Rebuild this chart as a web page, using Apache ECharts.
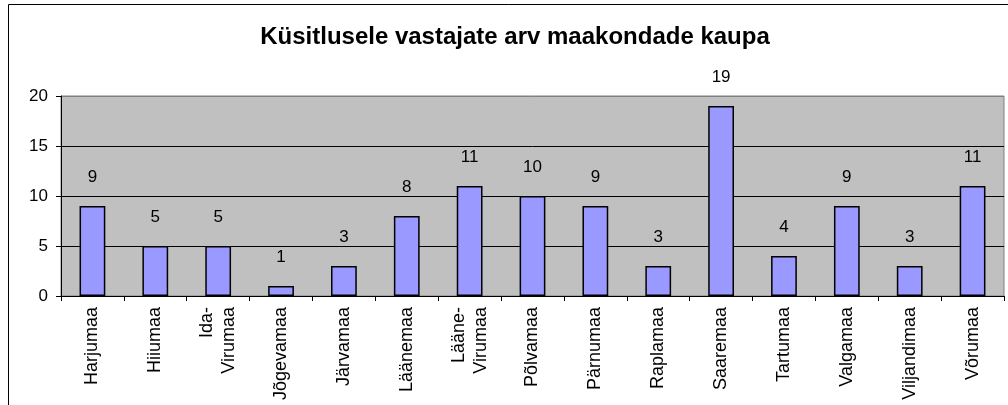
<!DOCTYPE html>
<html>
<head>
<meta charset="utf-8">
<script src="https://cdn.jsdelivr.net/npm/echarts@6/dist/echarts.min.js"></script>
<style>
  html, body { margin: 0; padding: 0; background: #ffffff; }
  #chart { width: 1008px; height: 405px; }
</style>
</head>
<body>
<div id="chart"></div>
<script>
const categories = [
    "Harjumaa", "Hiiumaa", "Ida-\nVirumaa", "Jõgevamaa", "Järvamaa",
    "Läänemaa", "Lääne-\nVirumaa", "Põlvamaa", "Pärnumaa", "Raplamaa",
    "Saaremaa", "Tartumaa", "Valgamaa", "Viljandimaa", "Võrumaa"
];
const respondents = [9, 5, 5, 1, 3, 8, 11, 10, 9, 3, 19, 4, 9, 3, 11];
const yTicks = [0, 5, 10, 15, 20];

const font = "'Liberation Sans', Arial, sans-serif";
const chart = echarts.init(document.getElementById("chart"));

const option = {
    backgroundColor: "#ffffff",
    animation: false,
    title: {
        text: "Küsitlusele vastajate arv maakondade kaupa",
        left: 510,
        textAlign: "center",
        top: 20,
        textStyle: { fontFamily: font, fontSize: 24, fontWeight: "bold", color: "#000000" },
    },
    graphic: [
        {
            type: "rect",
            shape: { x: 8.5, y: 4.5, width: 1100, height: 500 },
            style: { fill: "none", stroke: "#000000", lineWidth: 1 },
            z: 100,
        },
    ],
    grid: {
        left: 61,
        right: 4,
        top: 96,
        bottom: 109,
        show: true,
        backgroundColor: "#c0c0c0",
        borderColor: "#808080",
        borderWidth: 1,
    },
    xAxis: {
        type: "category",
        data: categories,
        axisLine: { lineStyle: { color: "#000000", width: 1 } },
        axisTick: { show: true, length: 5, alignWithLabel: false, lineStyle: { color: "#000000" } },
        axisLabel: {
            rotate: 90,
            interval: 0,
            margin: 11,
            fontFamily: font,
            fontSize: 18,
            lineHeight: 22,
            color: "#000000",
        },
    },
    yAxis: {
        type: "value",
        min: yTicks[0],
        max: yTicks[yTicks.length - 1],
        interval: 5,
        axisLine: { show: true, lineStyle: { color: "#000000", width: 1 } },
        axisTick: { show: true, length: 5, lineStyle: { color: "#000000" } },
        axisLabel: { margin: 13, fontFamily: font, fontSize: 17, color: "#000000" },
        splitLine: {
            show: true,
            lineStyle: { color: ["#000000", "#000000", "#000000", "#000000", "#808080"], width: 1 },
        },
    },
    series: [
        {
            type: "bar",
            data: respondents,
            barWidth: "41%",
            itemStyle: { color: "#9999ff", borderColor: "#000000", borderWidth: 1.5 },
            label: {
                show: true,
                position: "top",
                distance: 20,
                fontFamily: font,
                fontSize: 17,
                color: "#000000",
            },
        },
    ],
};

chart.setOption(option);
</script>
</body>
</html>
